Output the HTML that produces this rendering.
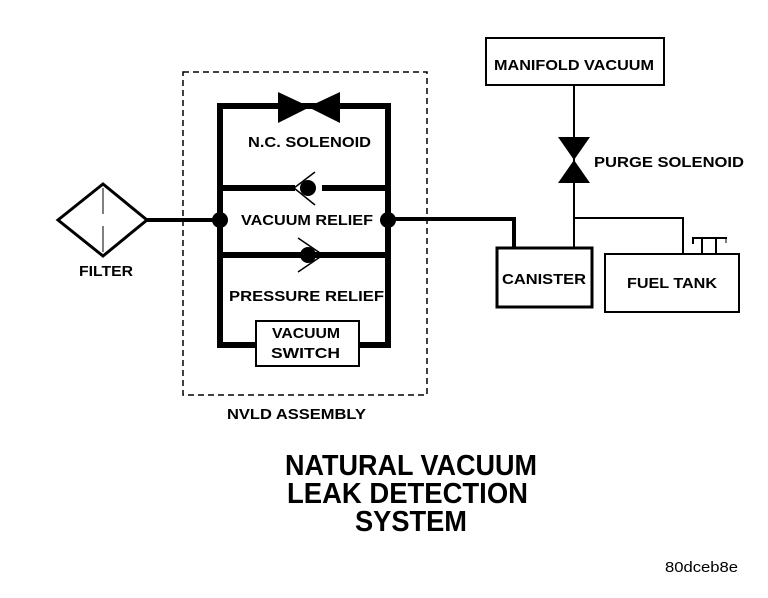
<!DOCTYPE html>
<html><head><style>
html,body{margin:0;padding:0;background:#fff;}
svg{display:block;}
text{font-family:"Liberation Sans",Arial,sans-serif;font-weight:bold;fill:#000;}
</style></head><body>
<svg width="768" height="598" viewBox="0 0 768 598" xmlns="http://www.w3.org/2000/svg">
<rect x="183" y="72" width="244" height="323" fill="none" stroke="#000" stroke-width="1.5" stroke-dasharray="6,4"/>
<polygon points="58,220 103,184 147,220 103,256" fill="none" stroke="#000" stroke-width="3"/>
<line x1="103" y1="188" x2="103" y2="214" stroke="#000" stroke-width="1"/>
<line x1="103" y1="226" x2="103" y2="252" stroke="#000" stroke-width="1"/>
<line x1="147" y1="220" x2="220" y2="220" stroke="#000" stroke-width="4"/>
<g stroke="#000" stroke-width="6" fill="none">
<line x1="220" y1="106" x2="220" y2="345"/>
<line x1="388" y1="106" x2="388" y2="345"/>
<line x1="217" y1="106" x2="391" y2="106"/>
<line x1="217" y1="345" x2="256" y2="345"/>
<line x1="359" y1="345" x2="391" y2="345"/>
<line x1="220" y1="188" x2="295" y2="188"/>
<line x1="322" y1="188" x2="388" y2="188"/>
<line x1="220" y1="255" x2="388" y2="255"/>
</g>
<polygon points="278,92 310,107 278,123" fill="#000"/>
<polygon points="340,92 308,107 340,123" fill="#000"/>
<circle cx="308" cy="188" r="8" fill="#000"/>
<polyline points="315,172 294,188 315,205" fill="none" stroke="#000" stroke-width="1.5"/>
<circle cx="308" cy="255" r="8" fill="#000"/>
<polyline points="298,238 323,255 298,272" fill="none" stroke="#000" stroke-width="1.5"/>
<circle cx="220" cy="220" r="8" fill="#000"/>
<circle cx="388" cy="220" r="8" fill="#000"/>
<rect x="256" y="321" width="103" height="45" fill="#fff" stroke="#000" stroke-width="2"/>
<polyline points="388,219 514,219 514,247" fill="none" stroke="#000" stroke-width="4"/>
<rect x="486" y="38" width="178" height="47" fill="none" stroke="#000" stroke-width="2"/>
<line x1="574" y1="85" x2="574" y2="247" stroke="#000" stroke-width="2"/>
<polygon points="558,137 590,137 574,160" fill="#000"/>
<polygon points="558,183 590,183 574,160" fill="#000"/>
<polyline points="574,218 683,218 683,253" fill="none" stroke="#000" stroke-width="2"/>
<rect x="497" y="248" width="95" height="59" fill="none" stroke="#000" stroke-width="3"/>
<rect x="605" y="254" width="134" height="58" fill="none" stroke="#000" stroke-width="2"/>
<g stroke="#000" stroke-width="2">
<line x1="692" y1="238" x2="727" y2="238"/>
<line x1="693" y1="238" x2="693" y2="244"/>
<line x1="702" y1="238" x2="702" y2="253"/>
<line x1="716" y1="238" x2="716" y2="253"/>
<line x1="726" y1="238" x2="726" y2="243" stroke-width="1"/>
</g>
<g font-size="15">
<text x="248" y="147" textLength="123" lengthAdjust="spacingAndGlyphs">N.C. SOLENOID</text>
<text x="241" y="225" textLength="132" lengthAdjust="spacingAndGlyphs">VACUUM RELIEF</text>
<text x="229" y="301" textLength="155" lengthAdjust="spacingAndGlyphs">PRESSURE RELIEF</text>
<text x="272" y="338" textLength="68" lengthAdjust="spacingAndGlyphs">VACUUM</text>
<text x="271" y="358" textLength="69" lengthAdjust="spacingAndGlyphs">SWITCH</text>
<text x="79" y="276" textLength="54" lengthAdjust="spacingAndGlyphs">FILTER</text>
<text x="227" y="419" textLength="139" lengthAdjust="spacingAndGlyphs">NVLD ASSEMBLY</text>
<text x="494" y="70" textLength="160" lengthAdjust="spacingAndGlyphs">MANIFOLD VACUUM</text>
<text x="594" y="167" textLength="150" lengthAdjust="spacingAndGlyphs">PURGE SOLENOID</text>
<text x="502" y="284" textLength="84" lengthAdjust="spacingAndGlyphs">CANISTER</text>
<text x="627" y="288" textLength="90" lengthAdjust="spacingAndGlyphs">FUEL TANK</text>
</g>
<g font-size="29">
<text x="285" y="475" textLength="252" lengthAdjust="spacingAndGlyphs">NATURAL VACUUM</text>
<text x="287" y="503" textLength="241" lengthAdjust="spacingAndGlyphs">LEAK DETECTION</text>
<text x="355" y="531" textLength="112" lengthAdjust="spacingAndGlyphs">SYSTEM</text>
</g>
<text x="665" y="572" font-size="15" style="font-weight:normal" textLength="73" lengthAdjust="spacingAndGlyphs">80dceb8e</text>
</svg>
</body></html>
